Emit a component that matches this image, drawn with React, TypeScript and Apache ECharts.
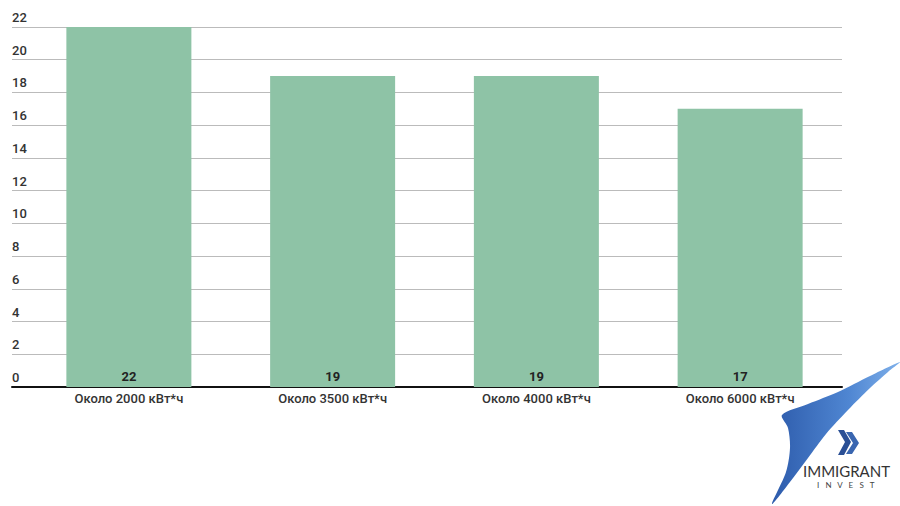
import React, { useEffect, useRef } from "react";
import * as echarts from "echarts";

const categories = ["Около 2000 кВт*ч", "Около 3500 кВт*ч", "Около 4000 кВт*ч", "Около 6000 кВт*ч"];
const values = [22, 19, 19, 17];
const yMin = 0;
const yMax = 22;
const yInterval = 2;

export default function App() {
  const ref = useRef<HTMLDivElement>(null);
  useEffect(() => {
    if (!ref.current) return;
    const chart = echarts.init(ref.current, undefined, { renderer: "svg" });
    const font = "Roboto, 'Noto Sans', sans-serif";
    chart.setOption({
      animation: false,
      backgroundColor: "#ffffff",
      grid: [
        { left: 27, right: 58, top: 27, bottom: 119 },
        { left: 12, width: 15, top: 27, bottom: 119 },
      ],
      xAxis: [
        {
          type: "category",
          gridIndex: 0,
          data: categories,
          axisLine: { show: true, lineStyle: { color: "#111", width: 2 } },
          axisTick: { show: false },
          axisLabel: { color: "#333", fontSize: 13, fontWeight: 500, fontFamily: font, margin: 5 },
        },
        {
          type: "category",
          gridIndex: 1,
          data: [""],
          axisLine: { show: true, lineStyle: { color: "#111", width: 2 } },
          axisTick: { show: false },
          axisLabel: { show: false },
        },
      ],
      yAxis: [
        {
          type: "value",
          gridIndex: 0,
          min: yMin,
          max: yMax,
          interval: yInterval,
          axisLine: { show: false },
          axisTick: { show: false },
          axisLabel: {
            color: "#333",
            fontSize: 13,
            fontWeight: 500,
            fontFamily: font,
            align: "left",
            verticalAlign: "bottom",
            margin: 15,
            padding: [0, 0, 3, 0],
          },
          splitLine: { lineStyle: { color: "#bbb", width: 1 } },
        },
        {
          type: "value",
          gridIndex: 1,
          min: yMin,
          max: yMax,
          interval: yInterval,
          axisLine: { show: false },
          axisTick: { show: false },
          axisLabel: { show: false },
          splitLine: { lineStyle: { color: "#bbb", width: 1 } },
        },
      ],
      series: [
        {
          type: "bar",
          xAxisIndex: 0,
          yAxisIndex: 0,
          data: values,
          barWidth: 125,
          itemStyle: { color: "#8ec3a6" },
          label: {
            show: true,
            position: "insideBottom",
            distance: 4,
            color: "#222",
            fontSize: 13,
            fontWeight: "bold",
            fontFamily: font,
          },
        },
      ],
      graphic: [
        {
          type: "polygon",
          shape: {
            points: [
              [900, 362],
              [870, 376],
              [838, 392],
              [808, 404],
              [782, 415],
              [788, 428],
              [790, 448],
              [786, 472],
              [772, 504],
              [790, 482],
              [808, 458],
              [826, 434],
              [848, 410],
              [870, 388],
              [888, 372],
            ],
            smooth: 0.3,
          },
          style: {
            fill: new echarts.graphic.LinearGradient(0, 0, 1, 0, [
              { offset: 0, color: "#2d5bab" },
              { offset: 0.6, color: "#4f86d2" },
              { offset: 1, color: "#7fb0ea" },
            ]),
          },
          z: 100,
        },
        {
          type: "polygon",
          shape: { points: [[838, 430], [844, 430], [851, 442], [844, 455], [838, 455], [845, 442]] },
          style: { fill: "#2a4f95" },
          z: 100,
        },
        {
          type: "polygon",
          shape: { points: [[846, 432], [852, 432], [859, 443], [852, 454], [846, 454], [853, 443]] },
          style: { fill: "#3a66b0" },
          z: 100,
        },
        {
          type: "text",
          left: 803,
          top: 463,
          style: { text: "IMMIGRANT", fill: "#333", fontSize: 15, fontFamily: "Lato, 'Open Sans', sans-serif", fontWeight: 400 },
          z: 100,
        },
        {
          type: "text",
          left: 817,
          top: 481,
          style: { text: "I   N   V   E   S   T", fill: "#444", fontSize: 8, fontFamily: "Lato, 'Open Sans', sans-serif" },
          z: 100,
        },
      ],
    });
    return () => chart.dispose();
  }, []);
  return <div ref={ref} style={{ position: "fixed", left: 0, top: 0, width: 900, height: 506 }} />;
}
